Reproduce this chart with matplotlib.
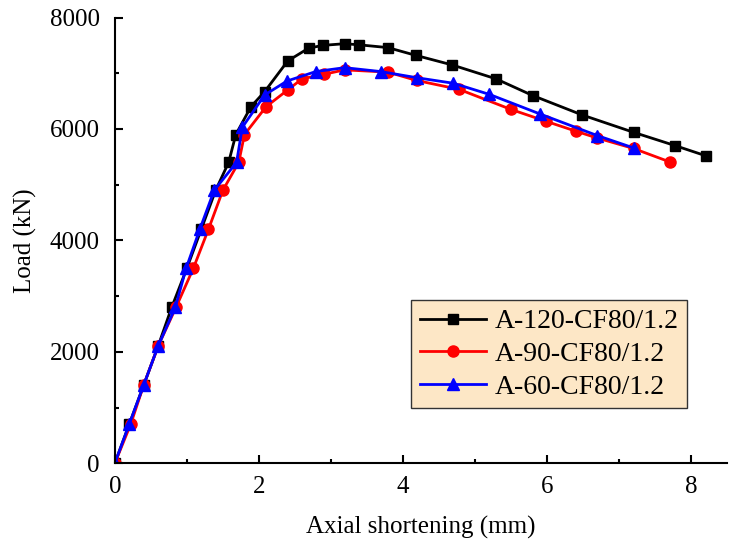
import numpy as np
import matplotlib
matplotlib.use('Agg')
import matplotlib.pyplot as plt

plt.rcParams['font.family'] = ['Liberation Serif', 'DejaVu Serif']
plt.rcParams['font.size'] = 18

# A-120-CF80/1.2
x120 = [0, 0.2, 0.4, 0.6, 0.79, 1.0, 1.2, 1.4, 1.58, 1.68, 1.89, 2.08, 2.4, 2.69,
        2.89, 3.19, 3.39, 3.79, 4.18, 4.68, 5.29, 5.8, 6.49, 7.2, 7.78, 8.2]
y120 = [0, 700, 1400, 2100, 2800, 3500, 4200, 4900, 5400, 5900, 6400, 6670, 7220, 7450,
        7500, 7530, 7510, 7460, 7320, 7150, 6900, 6600, 6250, 5940, 5700, 5520]

# A-90-CF80/1.2
x90 = [0, 0.22, 0.4, 0.6, 0.85, 1.09, 1.3, 1.5, 1.72, 1.8, 2.1, 2.4, 2.6, 2.9,
       3.19, 3.79, 4.19, 4.78, 5.5, 5.98, 6.4, 6.69, 7.2, 7.7]
y90 = [0, 700, 1400, 2100, 2800, 3500, 4200, 4900, 5400, 5900, 6400, 6700, 6900, 6980,
       7060, 7020, 6870, 6710, 6350, 6140, 5960, 5840, 5650, 5410]

# A-60-CF80/1.2
x60 = [0, 0.2, 0.4, 0.6, 0.84, 0.99, 1.18, 1.38, 1.69, 1.77, 2.08, 2.39, 2.79, 3.19,
       3.69, 4.19, 4.7, 5.2, 5.9, 6.7, 7.2]
y60 = [0, 700, 1400, 2100, 2800, 3500, 4200, 4900, 5400, 6030, 6610, 6860, 7030, 7100,
       7030, 6920, 6820, 6620, 6270, 5880, 5660]

fig = plt.figure(figsize=(7.36, 5.47), dpi=100)
ax = fig.add_axes([0.156, 0.153, 0.832, 0.815])

ax.plot(x120, y120, '-s', color='black', lw=2, ms=7, label='A-120-CF80/1.2')
ax.plot(x90, y90, '-o', color='red', lw=2, ms=8, label='A-90-CF80/1.2')
ax.plot(x60, y60, '-^', color='blue', lw=2, ms=8.5, label='A-60-CF80/1.2')

ax.set_xlim(0, 8.5)
ax.set_ylim(0, 8000)
ax.set_xticks([0, 2, 4, 6, 8])
ax.set_xticks([1, 3, 5, 7], minor=True)
ax.set_yticks([0, 2000, 4000, 6000, 8000])
ax.set_yticks([1000, 3000, 5000, 7000], minor=True)
ax.tick_params(which='both', direction='in', width=1.5)
ax.tick_params(which='major', length=6)
ax.tick_params(which='minor', length=3)
ax.tick_params(axis='x', which='major', pad=9)
ax.tick_params(axis='y', which='major', pad=11)

for s in ['top', 'right']:
    ax.spines[s].set_visible(False)
for s in ['left', 'bottom']:
    ax.spines[s].set_linewidth(1.5)

ax.set_xlabel('Axial shortening (mm)', labelpad=13)
ax.set_ylabel('Load (kN)', labelpad=9)

leg = ax.legend(loc='center', bbox_to_anchor=(0.746, 0.352),
                bbox_transform=fig.transFigure, fontsize=20,
                frameon=True, fancybox=False, handlelength=2.4,
                borderpad=0.3, labelspacing=0.27, handletextpad=0.3)
leg.get_frame().set_facecolor('#FDE7C6')
leg.get_frame().set_edgecolor('#333333')
leg.get_frame().set_alpha(1)
leg.get_frame().set_linewidth(1)

fig.savefig('out.png', dpi=100)
